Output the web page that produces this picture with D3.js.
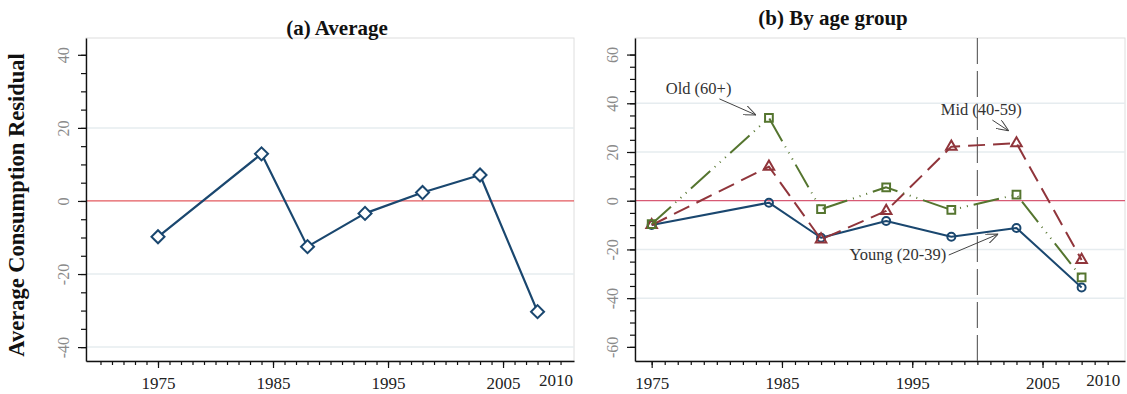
<!DOCTYPE html>
<html>
<head>
<meta charset="utf-8">
<script src="https://cdn.jsdelivr.net/npm/d3@7/dist/d3.min.js"></script>
<style>
  body { margin: 0; background: #fff; }
  svg { display: block; font-family: "Liberation Serif", "DejaVu Serif", serif; }
</style>
</head>
<body>
<div id="viz"></div>
<script>
// survey years and residuals
const years = [1975, 1984, 1988, 1993, 1998, 2003, 2008];
const average = [-9.8, 12.9, -12.5, -3.4, 2.3, 7.1, -30.3];
const young = [-10.0, -0.8, -15.2, -8.3, -14.8, -11.2, -35.6];
const mid = [-10.0, 14.0, -15.9, -4.2, 22.2, 23.6, -24.3];
const old = [-9.6, 34.0, -3.5, 5.5, -3.8, 2.5, -31.5];

const xLabels = [1975, 1985, 1995, 2005, 2010];
const xMajor = [1975, 1985, 1995, 2005];
const leftYTicks = [-40, -20, 0, 20, 40];
const rightYTicks = [-60, -40, -20, 0, 20, 40, 60];
const leftGrid = [-40, -20, 20];
const rightGrid = [-40, -20, 20, 40];
const breakYear = 2000;

const annotations = [
  {text: 'Old (60+)', tx: 1978.6, ty: 46.0, x1: 1980.2, y1: 41.8, x2: 1983.0, y2: 35.2},
  {text: 'Mid (40-59)', tx: 2000.3, ty: 37.6, x1: 2001.15, y1: 33.1, x2: 2002.4, y2: 28.7},
  {text: 'Young (20-39)', tx: 1993.9, ty: -22.0, x1: 1997.8, y1: -22.3, x2: 2001.6, y2: -13.7}
];

const serif = '"Liberation Serif", "DejaVu Serif", serif';

const svg = d3.select('#viz').append('svg')
  .attr('width', 1127)
  .attr('height', 394);

svg.append('defs').append('marker')
  .attr('id', 'arrow')
  .attr('markerUnits', 'userSpaceOnUse')
  .attr('viewBox', '0 0 12 10')
  .attr('refX', 12).attr('refY', 5)
  .attr('markerWidth', 12).attr('markerHeight', 10)
  .attr('orient', 'auto')
  .append('path')
  .attr('d', 'M0,0 L12,5 L0,10')
  .attr('fill', 'none')
  .attr('stroke', '#444')
  .attr('stroke-width', 1);

function panel(opt) {
  let x = d3.scaleLinear().domain(opt.xDomain).range(opt.xRange);
  let y = d3.scaleLinear().domain(opt.yDomain).range([361, 38]);
  let g = svg.append('g');

  // plot region outline
  g.append('rect')
    .attr('x', opt.xRange[0]).attr('y', 38)
    .attr('width', opt.xRange[1] - opt.xRange[0]).attr('height', 323)
    .attr('fill', '#fff').attr('stroke', '#dedede').attr('stroke-width', 1);

  g.selectAll('.grid')
    .data(opt.grid)
    .enter().append('line')
    .attr('x1', opt.xRange[0]).attr('x2', opt.xRange[1])
    .attr('y1', d => y(d)).attr('y2', d => y(d))
    .attr('stroke', '#e6ecef').attr('stroke-width', 1.5);

  g.append('line')
    .attr('x1', opt.xRange[0]).attr('x2', opt.xRange[1])
    .attr('y1', y(0)).attr('y2', y(0))
    .attr('stroke', opt.zeroColor).attr('stroke-width', 1.2);

  // y axis: minor ticks, then major with labels
  let yMinor = d3.range(opt.yTicks[0], opt.yTicks[opt.yTicks.length - 1] + 1, 5);
  g.append('g')
    .attr('transform', 'translate(' + opt.xRange[0] + ',0)')
    .call(d3.axisLeft(y).tickValues(yMinor).tickSize(5).tickSizeOuter(0).tickFormat(''))
    .call(a => a.select('.domain').remove());
  let ya = g.append('g')
    .attr('transform', 'translate(' + opt.xRange[0] + ',0)')
    .call(d3.axisLeft(y).tickValues(opt.yTicks).tickSize(8).tickSizeOuter(0).tickFormat(d => String(d)));
  ya.selectAll('.tick text')
    .attr('transform', 'rotate(-90)')
    .attr('x', 0).attr('y', -23).attr('dy', '0.35em')
    .attr('text-anchor', 'middle')
    .attr('fill', '#8a8a8a')
    .style('font-size', '16px');

  // x axis
  let xMinor = d3.range(opt.xMinorStart, 2011, 1);
  let xg = 'translate(0,361)';
  g.append('g').attr('transform', xg)
    .call(d3.axisBottom(x).tickValues(xMinor).tickSize(4).tickSizeOuter(0).tickFormat(''))
    .call(a => a.select('.domain').remove());
  g.append('g').attr('transform', xg)
    .call(d3.axisBottom(x).tickValues(xMajor).tickSize(7).tickSizeOuter(0).tickFormat(''));
  g.append('g').attr('transform', xg)
    .call(d3.axisBottom(x).tickValues(xLabels).tickSize(0).tickFormat(d => String(d)))
    .call(a => a.select('.domain').remove())
    .selectAll('.tick text')
    .attr('y', 16)
    .attr('dx', d => d == 2010 ? -5 : 0)
    .attr('dy', d => d == 2010 ? '0.55em' : '0.71em')
    .attr('fill', '#222')
    .style('font-size', '17px');

  g.selectAll('.domain').attr('stroke', '#111').attr('stroke-width', 1.4);
  g.selectAll('.tick line').attr('stroke', '#111').attr('stroke-width', 1.2);
  g.selectAll('.tick').attr('font-family', serif);
  g.selectAll('g').attr('font-family', serif);
  g.selectAll('.tick text').style('font-family', serif);

  g.append('text')
    .attr('x', opt.titleX).attr('y', opt.titleY)
    .attr('text-anchor', 'middle')
    .style('font-size', '21px').style('font-weight', 'bold')
    .attr('fill', '#111')
    .text(opt.title);

  return {g: g, x: x, y: y};
}

function series(p, values, color, dash, width) {
  let line = d3.line()
    .x((d, i) => p.x(years[i]))
    .y(d => p.y(d));
  p.g.append('path')
    .datum(values)
    .attr('d', line)
    .attr('fill', 'none')
    .attr('stroke', color)
    .attr('stroke-width', width)
    .attr('stroke-dasharray', dash)
    .attr('stroke-linejoin', 'round');
}

function markers(p, values, color, shape, size, fill) {
  p.g.selectAll('.nomatch')
    .data(values)
    .enter().append('path')
    .attr('transform', (d, i) => 'translate(' + p.x(years[i]) + ',' + p.y(d) + ')' + (shape == 'diamond' ? ' rotate(45)' : ''))
    .attr('d', d3.symbol().type(shape == 'diamond' ? d3.symbolSquare : shape).size(size))
    .attr('fill', fill)
    .attr('stroke', color)
    .attr('stroke-width', 2);
}

// (a) Average
let pa = panel({
  xDomain: [1968.74, 2011.17], xRange: [86, 574],
  yDomain: [-43.8, 44.6], yTicks: leftYTicks, grid: leftGrid,
  xMinorStart: 1970, zeroColor: '#e35a5f',
  title: '(a) Average', titleX: 337, titleY: 35
});
series(pa, average, '#1a476f', null, 2.2);
markers(pa, average, '#1a476f', 'diamond', 85, '#fff');

svg.append('text')
  .attr('transform', 'translate(24,205) rotate(-90)')
  .attr('text-anchor', 'middle')
  .style('font-size', '22.5px').style('font-weight', 'bold')
  .attr('fill', '#111')
  .text('Average Consumption Residual');

// (b) By age group
let pb = panel({
  xDomain: [1973.72, 2011.33], xRange: [635, 1125],
  yDomain: [-65.8, 66.8], yTicks: rightYTicks, grid: rightGrid,
  xMinorStart: 1975, zeroColor: '#d85a74',
  title: '(b) By age group', titleX: 833, titleY: 25
});

pb.g.append('line')
  .attr('x1', pb.x(breakYear)).attr('x2', pb.x(breakYear))
  .attr('y1', 38).attr('y2', 361)
  .attr('stroke', '#666').attr('stroke-width', 1.2)
  .attr('stroke-dasharray', '26,7');

series(pb, young, '#1a476f', null, 2);
markers(pb, young, '#1a476f', d3.symbolCircle, 50, 'none');
series(pb, mid, '#90353b', '17,8', 2);
markers(pb, mid, '#90353b', d3.symbolTriangle, 48, 'none');
series(pb, old, '#55752f', '26,6,1,6,1,6,1,6', 2);
markers(pb, old, '#55752f', d3.symbolSquare, 60, 'none');

annotations.forEach(function(a) {
  pb.g.append('text')
    .attr('x', pb.x(a.tx)).attr('y', pb.y(a.ty))
    .attr('dy', '0.35em')
    .attr('text-anchor', 'middle')
    .style('font-size', '16.5px')
    .attr('fill', '#333')
    .text(a.text);
  pb.g.append('line')
    .attr('x1', pb.x(a.x1)).attr('y1', pb.y(a.y1))
    .attr('x2', pb.x(a.x2)).attr('y2', pb.y(a.y2))
    .attr('stroke', '#444').attr('stroke-width', 1)
    .attr('marker-end', 'url(#arrow)');
});
</script>
</body>
</html>
